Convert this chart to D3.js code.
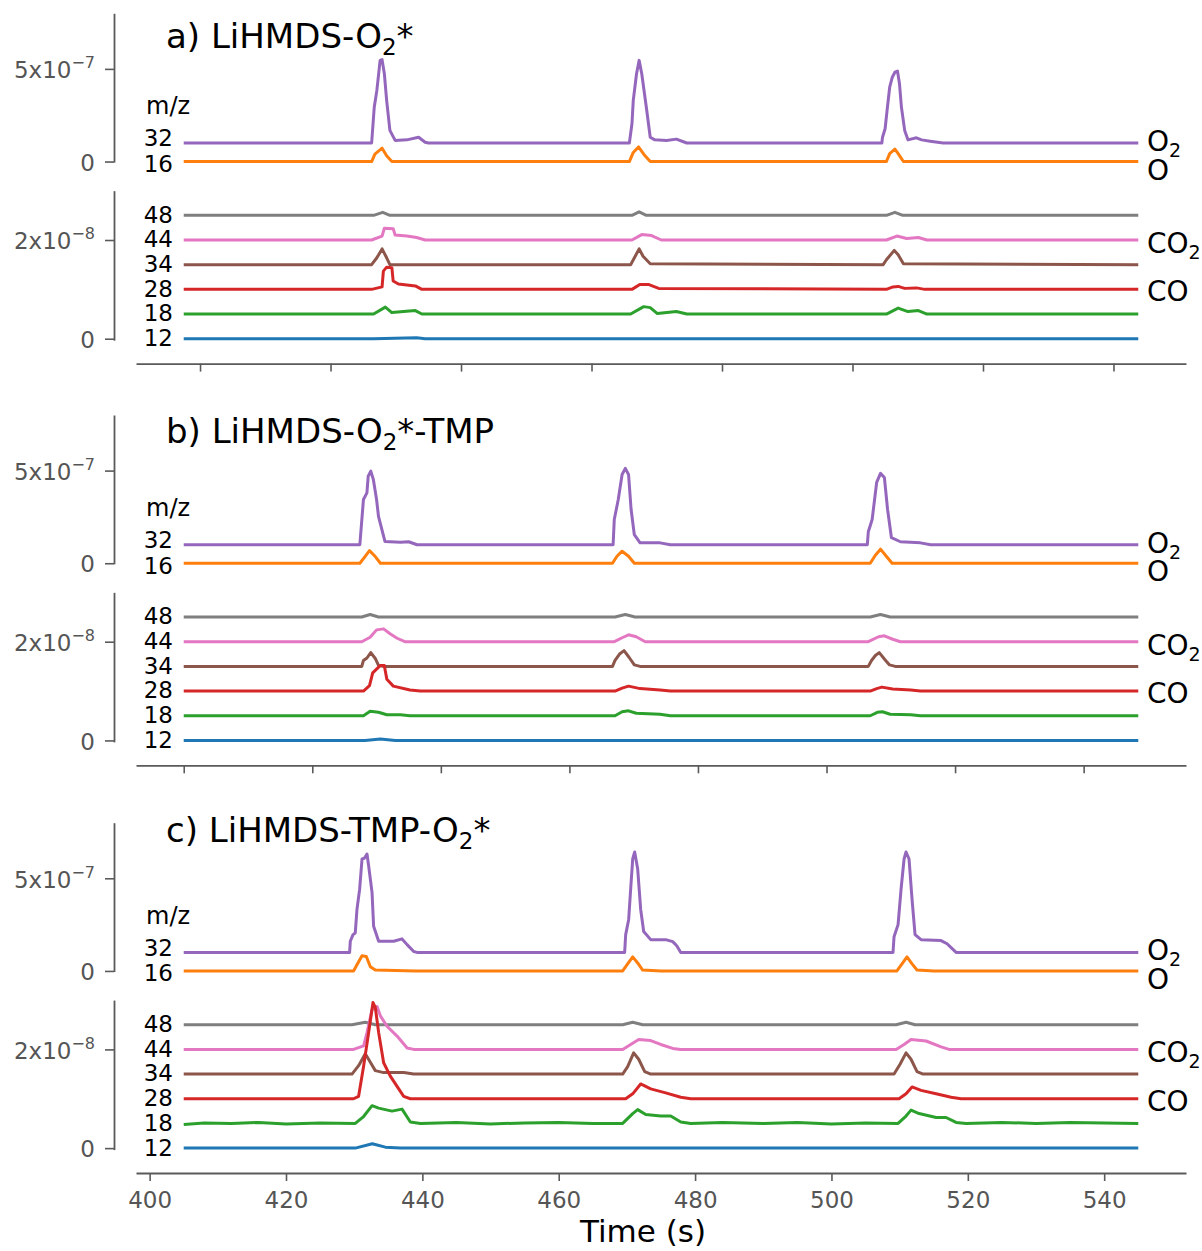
<!DOCTYPE html>
<html>
<head>
<meta charset="utf-8">
<script src="https://cdn.jsdelivr.net/npm/d3@7"></script>
<style>
  body { margin: 0; background: #fff; }
  text { font-family: "DejaVu Sans", sans-serif; }
</style>
</head>
<body>
<svg id="chart" width="1202" height="1251"></svg>
<script>
// ---- data ----------------------------------------------------------------
// m/z channels, top two on the 1e-7 axis, the rest on the 1e-8 axis
const masses = ["32", "16", "48", "44", "34", "28", "18", "12"];
const massOffsets = [1.0, 0, 2.5, 2.0, 1.5, 1.0, 0.5, 0];   // stacking offsets
const upperTicks = [0, 5];     // x1e-7
const lowerTicks = [0, 2];     // x1e-8
const upperExp = 7;
const lowerExp = 8;
const xTicks = [400, 420, 440, 460, 480, 500, 520, 540];

const titleMain = ["a) LiHMDS-O", "b) LiHMDS-O", "c) LiHMDS-TMP-O"];
const titleSub = ["2", "2", "2"];
const titleTail = ["*", "*-TMP", "*"];

const speciesMass = ["32", "16", "44", "28"];
const speciesMain = ["O", "O", "CO", "CO"];
const speciesSub = ["2", "", "2", ""];

// signals [time (s), value] ; values in 1e-7 (32,16) or 1e-8 (others)
// a) LiHMDS-O2*
const a32 = [[397.5,0],[426.3,0],[426.7,1.93],[427.1,2.84],[427.6,4.46],[427.9,4.5],[428.25,3.74],[428.6,2.3],[429.1,0.68],[429.9,0.14],[431.7,0.17],[433.5,0.31],[434.5,0.04],[435.0,0],
  [465.8,0],[466.2,1.04],[466.4,2.3],[466.9,3.74],[467.3,4.46],[467.7,3.74],[468.4,1.93],[469.0,0.31],[469.7,0.17],[471.5,0.14],[473.0,0.21],[474.6,0],
  [504.5,0],[504.6,0.31],[505.0,0.77],[505.3,1.76],[505.7,3.01],[506.1,3.55],[506.5,3.82],[506.9,3.88],[507.2,3.2],[507.5,1.93],[508.0,0.68],[508.5,0.17],[509.8,0.28],[510.6,0.17],[511.9,0.1],[513.9,0],[543.8,0]];
const a16 = [[397.5,0],[426.3,0],[426.8,0.4],[427.9,0.72],[428.6,0.31],[429.4,0],[465.8,0],[466.4,0.49],[467.2,0.79],[468.2,0.31],[469.0,0],[505.2,0],[505.7,0.43],[506.5,0.67],[507.0,0.43],[507.8,0],[543.8,0]];
const a48 = [[397.5,0],[426.6,0],[428.0,0.06],[429.1,0],[466.2,0],[467.3,0.07],[468.4,0],[505.2,0],[506.5,0.06],[507.7,0],[543.8,0]];
const a44 = [[397.5,0],[426.3,0],[427.9,0.08],[428.25,0.24],[429.6,0.23],[429.9,0.1],[431.7,0.08],[433.2,0.05],[434.5,0],[466.2,0],[467.7,0.11],[469.2,0.09],[470.7,0],[505.2,0],[506.8,0.08],[508.3,0.03],[510.1,0.05],[511.4,0],[543.8,0]];
const a34 = [[397.5,0],[426.3,0],[427.1,0.14],[427.9,0.32],[428.6,0.14],[429.1,0],[466.0,0],[467.3,0.32],[467.9,0.17],[469.0,0.02],[504.7,0],[505.2,0.1],[506.4,0.29],[507.0,0.2],[507.8,0.02],[543.8,0]];
const a28 = [[397.5,0],[426.3,0],[427.9,0.05],[428.1,0.37],[428.6,0.45],[429.4,0.44],[429.6,0.17],[430.4,0.11],[433.0,0.07],[434.0,0],[466.2,0],[467.4,0.1],[468.7,0.1],[470.3,0.02],[505.2,0],[506.2,0.05],[507.0,0.06],[508.0,0.02],[509.8,0.03],[511.1,0],[543.8,0]];
const a18 = [[397.5,0],[426.6,0],[428.4,0.14],[429.4,0.03],[433.0,0.07],[434.0,0],[466.0,0],[468.0,0.15],[469.0,0.13],[470.1,0.01],[473.0,0.05],[474.6,0],[505.2,0],[507.0,0.12],[508.5,0.05],[510.1,0.07],[511.4,0],[543.8,0]];
const a12 = [[397.5,0],[426.6,0],[433.2,0.02],[434.5,0],[543.8,0]];

// b) LiHMDS-O2*-TMP
const b32 = [[400,0],[427.4,0],[427.96,2.44],[428.5,2.8],[428.7,3.7],[429.1,3.97],[429.5,3.52],[430.0,2.44],[430.3,1.53],[431.3,0.18],[433.7,0.13],[435.0,0.16],[436.3,0],
  [466.8,0],[466.98,1.36],[467.6,2.44],[468.2,3.79],[468.7,4.12],[469.2,3.79],[469.6,1.9],[470.1,0.54],[471.0,0.1],[474.1,0.1],[475.7,0],
  [506.35,0],[506.5,0.7],[507.1,1.36],[507.8,3.36],[508.4,3.85],[509.0,3.63],[509.5,1.9],[510.1,0.38],[511.5,0.16],[514.6,0.1],[516.2,0],[548.5,0]];
const b16 = [[400,0],[427.4,0],[428.2,0.36],[428.9,0.68],[429.8,0.36],[430.6,0],[466.7,0],[467.4,0.38],[468.2,0.65],[469.2,0.38],[470.1,0],[506.8,0],[507.6,0.43],[508.4,0.76],[509.3,0.38],[510.2,0],[548.5,0]];
const b48 = [[400,0],[427.7,0],[429.0,0.05],[430.3,0],[467.1,0],[468.7,0.05],[470.2,0],[506.8,0],[508.4,0.05],[509.9,0],[548.5,0]];
const b44 = [[400,0],[427.7,0],[429.0,0.09],[430.0,0.24],[431.1,0.26],[432.1,0.16],[433.2,0.07],[434.4,0],[467.0,0],[468.2,0.08],[469.2,0.14],[470.4,0.1],[471.8,0],[506.5,0],[508.1,0.1],[509.0,0.12],[510.3,0.05],[511.5,0],[548.5,0]];
const b34 = [[400,0],[427.7,0],[427.96,0.12],[428.5,0.17],[429.1,0.28],[429.8,0.16],[430.3,0.02],[431.0,0],[466.7,0],[467.1,0.12],[467.8,0.25],[468.5,0.32],[469.3,0.18],[470.1,0.03],[471.0,0],[506.5,0],[507.0,0.12],[507.6,0.22],[508.2,0.28],[509.0,0.15],[509.8,0.03],[510.7,0],[548.5,0]];
const b28 = [[400,0],[427.96,0],[428.9,0.11],[429.4,0.37],[430.6,0.52],[431.2,0.52],[431.6,0.24],[432.6,0.1],[435.2,0.02],[436.8,0],[467.1,0],[468.2,0.06],[469.2,0.1],[471.0,0.05],[474.1,0.02],[475.7,0],[506.8,0],[507.8,0.05],[508.6,0.08],[510.3,0.04],[513.1,0.02],[514.6,0],[548.5,0]];
const b18 = [[400,0],[427.96,0],[429.0,0.09],[430.3,0.07],[431.6,0.02],[433.7,0.02],[435.2,0],[467.1,0],[468.2,0.08],[469.2,0.1],[470.4,0.05],[474.1,0.03],[475.7,0],[506.8,0],[507.9,0.07],[508.7,0.08],[509.9,0.03],[513.1,0.02],[514.6,0],[548.5,0]];
const b12 = [[400,0],[428.2,0],[430.6,0.03],[432.9,0],[548.5,0]];

// c) LiHMDS-TMP-O2*
const c32 = [[405,0],[429.33,0],[429.43,0.6],[429.83,0.96],[430.16,1.05],[430.41,2.32],[430.8,3.41],[431.15,5.04],[431.49,5.08],[431.88,5.31],[432.12,4.68],[432.62,3.23],[432.85,1.41],[433.59,0.6],[435.79,0.6],[437.02,0.73],[437.76,0.42],[438.73,0.05],[439.22,0],
  [469.67,0],[469.82,0.96],[470.26,1.78],[470.55,3.41],[470.85,5.04],[471.14,5.42],[471.58,4.5],[472.02,2.32],[472.46,1.13],[473.49,0.69],[475.69,0.69],[476.72,0.58],[477.31,0.36],[477.9,0],
  [509.03,0],[509.18,0.85],[509.77,1.5],[510.21,3.41],[510.65,5.04],[510.94,5.42],[511.38,5.04],[511.82,2.86],[512.26,0.96],[513.14,0.69],[516.08,0.64],[516.96,0.47],[517.55,0.26],[518.28,0],[545,0]];
const c16 = [[405,0],[429.91,0],[430.41,0.33],[431.15,0.82],[431.78,0.78],[432.37,0.23],[433.1,0.05],[439.0,0],[469.38,0],[470.11,0.38],[470.85,0.76],[471.58,0.43],[472.31,0.05],[475,0],[509.6,0],[510.35,0.38],[511.08,0.76],[511.82,0.38],[512.55,0.05],[515,0],[545,0]];
const c48 = [[405,0],[429.68,0],[431.63,0.05],[433.1,0],[469.38,0],[470.85,0.05],[472.31,0],[509.48,0],[510.94,0.05],[512.26,0],[545,0]];
const c44 = [[405,0],[429.91,0],[431.38,0.07],[431.88,0.34],[432.62,0.81],[433.35,0.87],[433.84,0.68],[434.82,0.47],[436.29,0.27],[437.76,0.03],[438.73,0],[469.38,0],[470.55,0.1],[471.73,0.2],[473.49,0.18],[474.96,0.1],[476.72,0.02],[477.9,0],[509.48,0],[510.65,0.1],[511.67,0.2],[513.88,0.17],[516.08,0.05],[517.25,0],[545,0]];
const c34 = [[405,0],[429.68,0],[430.65,0.17],[431.63,0.41],[432.37,0.24],[433.1,0.07],[434.32,0.03],[437.26,0.03],[438.73,0],[469.38,0],[470.11,0.15],[470.99,0.43],[471.73,0.3],[472.61,0.05],[473.49,0],[509.18,0],[510.06,0.2],[510.94,0.43],[511.67,0.3],[512.55,0.05],[513.44,0],[545,0]];
const c28 = [[405,0],[429.91,0],[430.65,0.05],[431.38,0.66],[432.12,1.34],[432.76,1.95],[433.1,1.85],[433.59,1.34],[434.32,0.73],[435.3,0.46],[436.29,0.25],[437.26,0.05],[438.24,0],[469.82,0],[470.85,0.1],[472.02,0.3],[473.49,0.2],[475.69,0.12],[477.9,0.03],[479.36,0],[509.91,0],[510.94,0.1],[511.82,0.24],[513.14,0.17],[515.35,0.1],[517.55,0.03],[519.01,0],[545,0]];
const c18 = [[405,-0.02],[408,0.01],[412,0],[416,0.02],[420,-0.01],[425,0.01],[430.16,0],[431.38,0.14],[432.62,0.36],[433.59,0.31],[435.55,0.25],[437.02,0.29],[438.24,0.03],[439.71,0],[445,0.02],[450,-0.01],[455,0.01],[460,0.02],[465,0],
  [469.38,0],[470.85,0.2],[471.58,0.28],[472.76,0.18],[474.96,0.15],[476.43,0.15],[477.9,0.03],[479.36,0],[484,0.02],[490,0],[495,0.02],[500,-0.01],[505,0.01],
  [509.77,0],[510.94,0.15],[511.67,0.27],[512.85,0.2],[515.35,0.12],[516.81,0.12],[518.28,0.02],[519.75,0],[525,0.02],[530,0],[535,0.02],[540,0.01],[545,0]];
const c12 = [[405,0],[430.16,0],[432.66,0.09],[434.57,0.02],[436.77,0],[545,0]];

const panelSeries = [
  [a32, a16, a48, a44, a34, a28, a18, a12],
  [b32, b16, b48, b44, b34, b28, b18, b12],
  [c32, c16, c48, c44, c34, c28, c18, c12]
];

// ---- drawing -------------------------------------------------------------
function main() {
  const svg = d3.select("#chart");
  const colors = ["#9467bd", "#ff7f0e", "#7f7f7f", "#e377c2", "#8c564b", "#d62728", "#2ca02c", "#1f77b4"];
  const axisGrey = "#5a5a5a";

  const panelTop = [13.3, 415, 822.7];     // top of the upper spine
  const titleBase = [47.7, 443.3, 841.7];
  const spineX = 114;
  const axisLeft = 136, axisRight = 1186;

  /** y tick label as  m x 10^-e  */
  function expLabels(g, exp) {
    g.selectAll(".tick text").each(function(d) {
      const t = d3.select(this).text(null);
      if (d === 0) { t.text("0"); return; }
      t.append("tspan").text(d + "x10");
      t.append("tspan").attr("dy", -10).attr("font-size", 16).text("\u2212" + exp);
    });
  }

  function styleAxis(g, size) {
    g.attr("font-family", "DejaVu Sans").attr("font-size", size);
    g.select(".domain").attr("stroke", axisGrey).attr("stroke-width", 1.8);
    g.selectAll(".tick line").attr("stroke", axisGrey).attr("stroke-width", 1.6);
    g.selectAll(".tick text").attr("fill", "#555");
  }

  panelSeries.forEach((series, p) => {
    const top = panelTop[p];
    const [t0, t1] = d3.extent(series.flat(), d => d[0]);
    const pad = (t1 - t0) * 0.05;
    const x = d3.scaleLinear().domain([t0 - pad, t1 + pad]).range([axisLeft, axisRight]);
    const yUp = d3.scaleLinear().domain([-0.03, 8]).range([top + 148.8, top]);
    const yLo = d3.scaleLinear().domain([-0.03, 3]).range([top + 326.9, top + 177.35]);

    // left spines
    const gUp = svg.append("g").attr("transform", `translate(${spineX},0)`)
      .call(d3.axisLeft(yUp).tickValues(upperTicks).tickSize(9).tickSizeOuter(0).tickPadding(10));
    styleAxis(gUp, 23);
    gUp.selectAll(".tick text").attr("dy", "0.38em");
    expLabels(gUp, upperExp);

    const gLo = svg.append("g").attr("transform", `translate(${spineX},0)`)
      .call(d3.axisLeft(yLo).tickValues(lowerTicks).tickSize(9).tickSizeOuter(0).tickPadding(10));
    styleAxis(gLo, 23);
    gLo.selectAll(".tick text").attr("dy", "0.38em");
    expLabels(gLo, lowerExp);

    // bottom axis
    const xAxis = d3.axisBottom(x).tickValues(xTicks).tickSize(8).tickSizeOuter(0).tickPadding(10.5);
    if (p < 2) xAxis.tickFormat("");
    const gX = svg.append("g").attr("transform", `translate(0,${top + 350.3})`).call(xAxis);
    styleAxis(gX, 23);

    // traces
    series.forEach((s, i) => {
      const y = i < 2 ? yUp : yLo;
      const off = massOffsets[i];
      const line = d3.line().x(d => x(d[0])).y(d => y(d[1] + off));
      svg.append("path")
        .datum(s)
        .attr("d", line)
        .attr("fill", "none")
        .attr("stroke", colors[i])
        .attr("stroke-width", 3)
        .attr("stroke-linejoin", "round");

      // m/z label at the left end
      const shift = masses[i] === "32" ? -5 : masses[i] === "16" ? 2 : -1;
      svg.append("text")
        .attr("x", 173)
        .attr("y", y(off) + shift + 8.4)
        .attr("text-anchor", "end")
        .attr("font-size", 23)
        .attr("fill", "#000")
        .text(masses[i]);
    });

    svg.append("text")
      .attr("x", 146).attr("y", top + 101)
      .attr("font-size", 24).attr("fill", "#000")
      .text("m/z");

    // species names at the right end
    speciesMass.forEach((m, k) => {
      const i = masses.indexOf(m);
      const y = i < 2 ? yUp : yLo;
      const shift = [-2, 8, 3, 2][k];
      const t = svg.append("text")
        .attr("x", 1147)
        .attr("y", y(massOffsets[i]) + shift + 10)
        .attr("font-size", 28).attr("fill", "#000");
      t.append("tspan").text(speciesMain[k]);
      if (speciesSub[k]) t.append("tspan").attr("dy", 6).attr("font-size", 19).text(speciesSub[k]);
    });

    // panel title
    const tt = svg.append("text")
      .attr("x", 166).attr("y", titleBase[p])
      .attr("font-size", 34).attr("fill", "#000");
    tt.append("tspan").text(titleMain[p]);
    tt.append("tspan").attr("dy", 7).attr("font-size", 23).text(titleSub[p]);
    tt.append("tspan").attr("dy", -7).text(titleTail[p]);
  });

  svg.append("text")
    .attr("x", 643).attr("y", 1242)
    .attr("text-anchor", "middle")
    .attr("font-size", 31).attr("fill", "#000")
    .text("Time (s)");
}

main();
</script>
</body>
</html>
